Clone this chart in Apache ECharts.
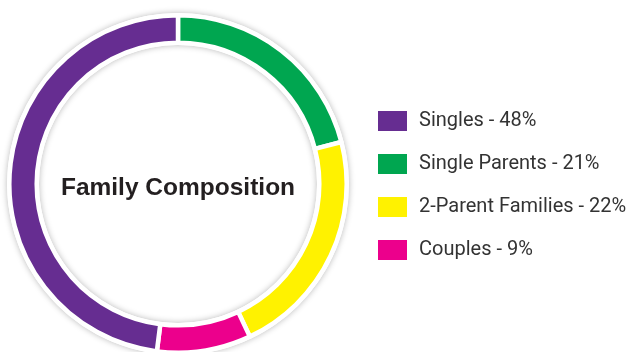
<!DOCTYPE html>
<html><head><meta charset="utf-8">
<script src="https://cdn.jsdelivr.net/npm/echarts@6/dist/echarts.min.js"></script>
<style>html,body{margin:0;padding:0;background:#fff}#c{width:628px;height:352px}</style>
</head><body><div id="c"></div>
<script>
const title = 'Family Composition';
const categories = ['Single Parents', '2-Parent Families', 'Couples', 'Singles'];
const values = [21, 22, 9, 48];
const colors = ['#00A650', '#FFF200', '#EC008C', '#662D91'];
const legendOrder = ['Singles', 'Single Parents', '2-Parent Families', 'Couples'];

const valueOf = {};
categories.forEach((c, i) => valueOf[c] = values[i]);

const chart = echarts.init(document.getElementById('c'), null, {renderer: 'canvas'});
chart.setOption({
  animation: false,
  backgroundColor: '#fff',
  legend: {
    orient: 'vertical', left: 376, top: 109, padding: 0,
    data: legendOrder,
    icon: 'rect', itemWidth: 31, itemHeight: 22, itemGap: 19,
    formatter: n => n + ' - ' + valueOf[n] + '%',
    textStyle: { fontFamily: 'Roboto, "Liberation Sans", sans-serif', fontSize: 20, color: '#333333', padding: [0, 0, 0, 6] },
    selectedMode: false
  },
  graphic: [{
    type: 'text', x: 178, y: 188,
    style: { text: title, textAlign: 'center', textVerticalAlign: 'middle',
      fontFamily: '"Liberation Sans", sans-serif', fontWeight: 'bold', fontSize: 24.5, fill: '#231F20' }
  }],
  series: [
    {
      type: 'pie', silent: true, center: [178, 184], radius: [139, 171],
      label: { show: false }, labelLine: { show: false },
      itemStyle: { color: '#ffffff', shadowBlur: 6, shadowColor: 'rgba(0,0,0,0.28)' },
      data: [{ value: 1, name: '_bg' }], z: 1
    },
    {
      type: 'pie', center: [178, 184], radius: [141.3, 168.7], startAngle: 90, clockwise: true,
      label: { show: false }, labelLine: { show: false },
      itemStyle: { borderColor: '#ffffff', borderWidth: 4.5 },
      data: categories.map((c, i) => ({ name: c, value: values[i], itemStyle: { color: colors[i] } })),
      z: 2
    }
  ]
});
</script></body></html>
